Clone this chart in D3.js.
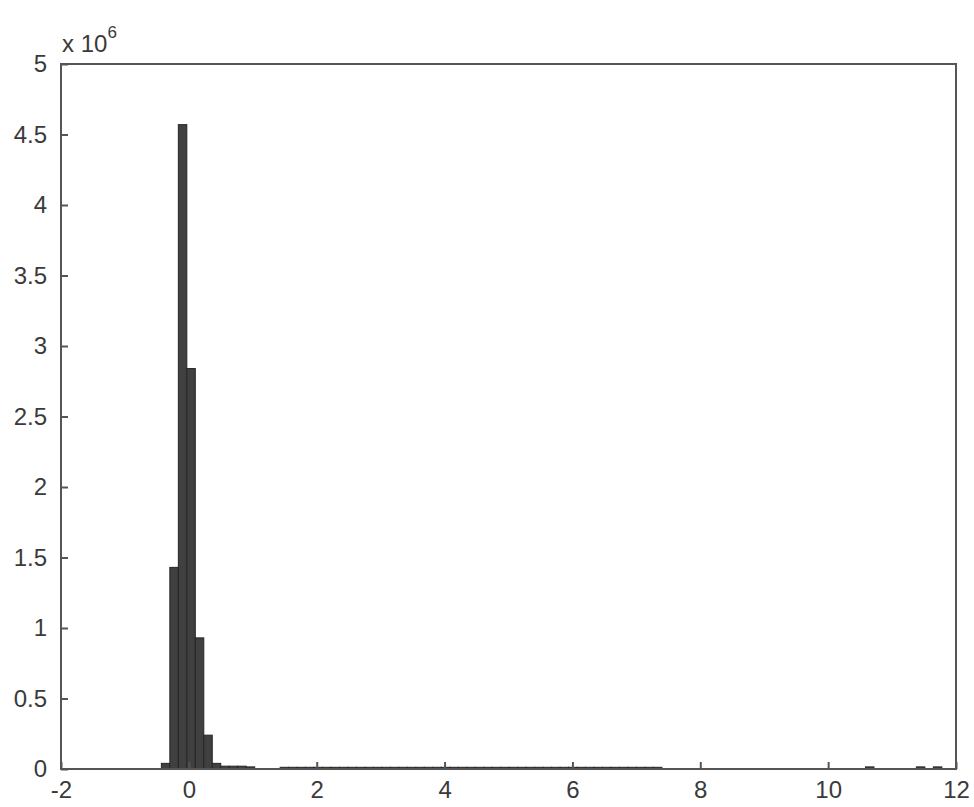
<!DOCTYPE html>
<html>
<head>
<meta charset="utf-8">
<script src="https://cdn.jsdelivr.net/npm/d3@7"></script>
<style>
  html, body { margin: 0; padding: 0; background: #fff; }
  #chart { width: 974px; height: 807px; }
  text { font-family: "Liberation Sans", Arial, sans-serif; fill: #3a3a3a; }
</style>
</head>
<body>
<div id="chart"></div>
<script>
// histogram bins: regular width, counts in millions
const binStart = -0.43;
const binWidth = 0.1327;
const counts = [
  0.04, 1.43, 4.57, 2.84, 0.93, 0.24, 0.04, 0.02, 0.02, 0.02,
  0.015, 0, 0, 0, 0.012, 0.012, 0.012, 0.012, 0.012, 0.012,
  0.012, 0.012, 0.012, 0.012, 0.012, 0.012, 0.012, 0.012, 0.012, 0.012,
  0.012, 0.012, 0.012, 0.012, 0.012, 0.012, 0.012, 0.012, 0.012, 0.012,
  0.012, 0.012, 0.012, 0.012, 0.012, 0.012, 0.012, 0.012, 0.012, 0.012,
  0.012, 0.012, 0.012, 0.012, 0.012, 0.012, 0.012, 0.012, 0.012, 0,
  0, 0, 0, 0, 0, 0, 0, 0, 0, 0,
  0, 0, 0, 0, 0, 0, 0, 0, 0, 0,
  0, 0, 0, 0.015, 0, 0, 0, 0, 0, 0.015,
  0, 0.015
];
const xTicks = [-2, 0, 2, 4, 6, 8, 10, 12];
const yTicks = [0, 0.5, 1, 1.5, 2, 2.5, 3, 3.5, 4, 4.5, 5];
const xDomain = [-2, 12];
const yDomain = [0, 5];

// -------------------------------
// layout
// -------------------------------
const svgWidth = 974;
const svgHeight = 807;
const margin = { top: 64, right: 18, bottom: 38, left: 61 };
const innerWidth = svgWidth - margin.left - margin.right;
const innerHeight = svgHeight - margin.top - margin.bottom;

const svg = d3.select("#chart").append("svg")
  .attr("width", svgWidth)
  .attr("height", svgHeight);

const g = svg.append("g")
  .attr("transform", `translate(${margin.left}, ${margin.top})`);

// -------------------------------
// scales
// -------------------------------
const xScale = d3.scaleLinear().domain(xDomain).range([0, innerWidth]);
const yScale = d3.scaleLinear().domain(yDomain).range([innerHeight, 0]);

const bins = counts.map((c, i) => ({
  x0: binStart + i * binWidth,
  x1: binStart + (i + 1) * binWidth,
  value: c
})).filter(d => d.value > 0);

// bars
g.selectAll("rect.bar")
  .data(bins)
  .join("rect")
  .attr("class", "bar")
  .attr("x", d => xScale(d.x0))
  .attr("width", d => xScale(d.x1) - xScale(d.x0))
  .attr("y", d => yScale(d.value))
  .attr("height", d => innerHeight - yScale(d.value))
  .attr("fill", "#404040")
  .attr("stroke", "#262626")
  .attr("stroke-width", 1);

// -------------------------------
// axes
// -------------------------------
const xAxis = d3.axisBottom(xScale)
  .tickValues(xTicks)
  .tickSizeInner(-7)
  .tickSizeOuter(0)
  .tickPadding(12)
  .tickFormat(d => String(d));

const yAxis = d3.axisLeft(yScale)
  .tickValues(yTicks)
  .tickSizeInner(-7)
  .tickSizeOuter(0)
  .tickPadding(14)
  .tickFormat(d => String(d));

const gx = g.append("g")
  .attr("transform", `translate(0, ${innerHeight})`)
  .call(xAxis);
const gy = g.append("g").call(yAxis);

[gx, gy].forEach(ax => {
  ax.select(".domain").remove();
  ax.selectAll(".tick line").attr("stroke", "#555").attr("stroke-width", 2);
  ax.selectAll(".tick text")
    .attr("font-size", 24)
    .attr("fill", "#3a3a3a");
});
gx.selectAll(".tick text").attr("dy", "0.71em");

// box
g.append("rect")
  .attr("x", 0)
  .attr("y", 0)
  .attr("width", innerWidth)
  .attr("height", innerHeight)
  .attr("fill", "none")
  .attr("stroke", "#555")
  .attr("stroke-width", 2);

// exponent label
const expo = svg.append("text")
  .attr("x", margin.left + 1)
  .attr("y", 52)
  .attr("font-size", 24);
expo.append("tspan").text("x 10");
expo.append("tspan")
  .attr("font-size", 17)
  .attr("dy", -14)
  .text("6");
</script>
</body>
</html>
